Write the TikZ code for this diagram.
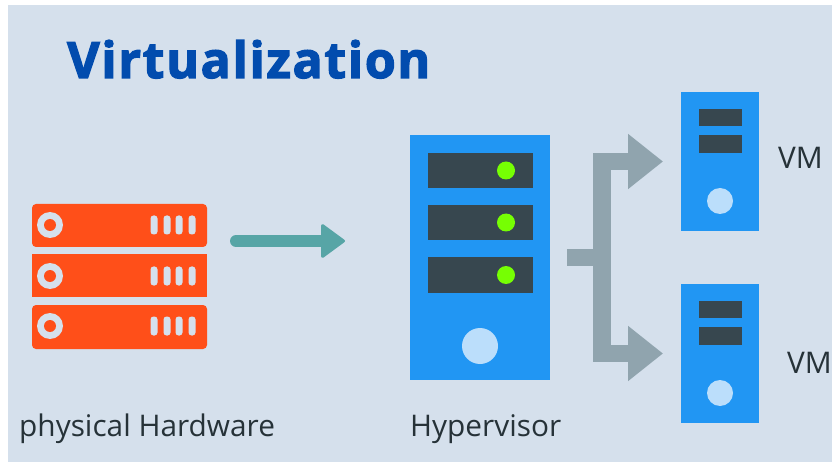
\documentclass[tikz,border=0pt]{standalone}
\usepackage{fontspec}
\setmainfont{Open Sans}
\newfontfamily\titlefont[BoldFeatures={FakeBold=2.6,LetterSpace=3.4}]{Open Sans}
\usetikzlibrary{arrows.meta}
\definecolor{bgblue}{HTML}{D5E0EC}
\definecolor{titleblue}{HTML}{024CAE}
\definecolor{hwred}{HTML}{FF4F19}
\definecolor{boxblue}{HTML}{2196F3}
\definecolor{slotgray}{HTML}{37474F}
\definecolor{ledgreen}{HTML}{76FF03}
\definecolor{discblue}{HTML}{BBDEFB}
\definecolor{tealarrow}{HTML}{57A5A6}
\definecolor{grayarrow}{HTML}{90A4AE}
\definecolor{labelink}{HTML}{263238}
\tikzset{
  box/.style={rectangle, inner sep=0pt, outer sep=0pt, fill=boxblue},
  slot/.style={rectangle, inner sep=0pt, outer sep=0pt, fill=slotgray},
  disc/.style={circle, inner sep=0pt, outer sep=0pt, fill=discblue},
  led/.style={circle, inner sep=0pt, outer sep=0pt, fill=ledgreen, minimum size=18pt},
  label/.style={anchor=base west, inner sep=0pt, text=labelink, font=\fontsize{29.8}{32}\selectfont},
  branch/.style={draw=grayarrow, line width=17.5pt, shorten >=18pt, -{Triangle[length=35pt,width=53pt,color=grayarrow]}},
}
\begin{document}
\begin{tikzpicture}[x=1pt, y=-1pt]
\useasboundingbox (0,0) rectangle (832,462);
\fill[bgblue] (8,5) rectangle (832,462);
\node[anchor=base west, inner sep=0pt, text=titleblue, font=\titlefont\bfseries\fontsize{50}{54}\selectfont] (title) at (67,78) {Virtualization};
% physical hardware
\fill[hwred, rounded corners=4pt] (32,247) -- (32,204) -- (207,204) -- (207,247) -- cycle;
\fill[hwred] (32,254) rectangle (207,297);
\fill[hwred, rounded corners=4pt] (32,305) -- (32,349) -- (207,349) -- (207,305) -- cycle;
\foreach \y in {225,276,326} {
  \fill[bgblue] (50,\y) circle (13);
  \fill[hwred] (50,\y) circle (6);
  \foreach \x in {154,167,179,192}
    \fill[bgblue, rounded corners=3pt] (\x-3.5,\y-9.5) rectangle (\x+3.5,\y+9.5);
}
\node[label] (hwlabel) at (19,436) {physical Hardware};
\coordinate (hwout) at (236,241);
\coordinate (hvin) at (345,241);
\draw[draw=tealarrow, line width=12pt, line cap=round, -{Triangle[length=25pt,width=36pt,round,color=tealarrow,line width=3pt]}] (hwout) -- (hvin);
% hypervisor
\node[box, minimum width=140pt, minimum height=245pt] (hypervisor) at (480,257.5) {};
\foreach \y/\n in {170.5/a,222.5/b,275/c} {
  \node[slot, minimum width=105pt, minimum height=35pt] (hv\n) at (480.5,\y) {};
  \node[led] (led\n) at (506,\y) {};
}
\node[disc, minimum size=36pt] (hvdisc) at (480,346) {};
\node[label] (hvlabel) at (410,436) {Hypervisor};
% virtual machines
\node[box, minimum width=78pt, minimum height=139pt] (vmtop) at (720,161.5) {};
\node[box, minimum width=78pt, minimum height=139pt] (vmbot) at (720,353.5) {};
\foreach \v in {vmtop,vmbot} {
  \node[slot, minimum width=43pt, minimum height=17.5pt] (\v a) at ([yshift=44pt]\v.center) {};
  \node[slot, minimum width=43pt, minimum height=17.5pt] (\v b) at ([yshift=17.5pt]\v.center) {};
  \node[disc, minimum size=26pt] (\v disc) at ([yshift=-39.5pt]\v.center) {};
}
\node[label] (vmtoplabel) at (778,169) {VM};
\node[label] (vmbotlabel) at (787,373) {VM};
% split arrow
\coordinate (split) at (602,257.5);
\draw[branch, shorten <=17pt] (hypervisor.east) -- (split) |- (vmtop.west);
\draw[branch] (split) |- (vmbot.west);
\end{tikzpicture}
\end{document}
